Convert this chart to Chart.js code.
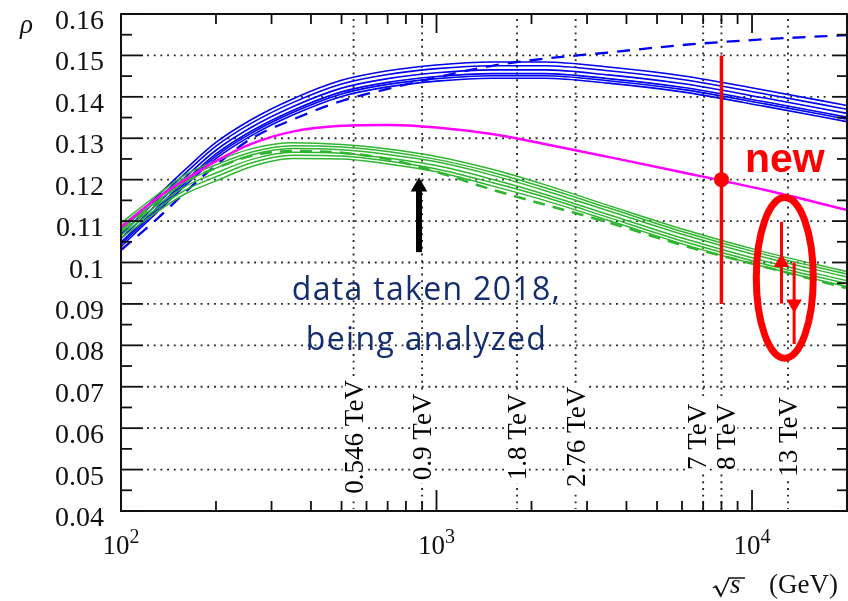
<!DOCTYPE html>
<html lang="en">
<head>
<meta charset="UTF-8">
<title>rho vs sqrt(s)</title>
<script src="https://cdn.jsdelivr.net/npm/chart.js"></script>
<style>
  html, body { margin: 0; padding: 0; background: #fff; }
  #wrap { width: 848px; height: 601px; }
</style>
</head>
<body>
<div id="wrap"><canvas id="rhoChart" width="848" height="601"></canvas></div>
<script>
const energies = [100, 130, 160, 200, 260, 350, 500, 700, 1000, 1500, 2200, 3500, 6000, 11000, 20000];

// blue band (6 solid models) + dashed blue
const blue1 = [0.1077, 0.1160, 0.1225, 0.1290, 0.1346, 0.1395, 0.1440, 0.1463, 0.1477, 0.1484, 0.1484, 0.1472, 0.1451, 0.1416, 0.1379];
const blue2 = [0.1068, 0.1151, 0.1216, 0.1281, 0.1337, 0.1386, 0.1431, 0.1454, 0.1468, 0.1475, 0.1475, 0.1463, 0.1442, 0.1407, 0.1370];
const blue3 = [0.1058, 0.1141, 0.1206, 0.1271, 0.1327, 0.1376, 0.1421, 0.1444, 0.1458, 0.1465, 0.1465, 0.1453, 0.1432, 0.1397, 0.1360];
const blue4 = [0.1049, 0.1132, 0.1197, 0.1262, 0.1318, 0.1367, 0.1412, 0.1435, 0.1449, 0.1456, 0.1456, 0.1444, 0.1423, 0.1388, 0.1351];
const blue5 = [0.1044, 0.1127, 0.1192, 0.1257, 0.1313, 0.1362, 0.1407, 0.1430, 0.1444, 0.1451, 0.1451, 0.1439, 0.1418, 0.1383, 0.1346];
const blue6 = [0.1038, 0.1121, 0.1186, 0.1251, 0.1307, 0.1356, 0.1401, 0.1424, 0.1438, 0.1445, 0.1445, 0.1433, 0.1412, 0.1377, 0.1340];
const blueDashed = [0.1030, 0.1105, 0.1170, 0.1235, 0.1300, 0.1345, 0.1390, 0.1419, 0.1447, 0.1475, 0.1492, 0.1507, 0.1525, 0.1539, 0.1549];

// green band (6 solid models) + dashed green
const green1 = [0.1095, 0.1163, 0.1212, 0.1245, 0.1275, 0.1289, 0.1285, 0.1274, 0.1256, 0.1225, 0.1188, 0.1138, 0.1081, 0.1025, 0.0978];
const green2 = [0.1089, 0.1156, 0.1204, 0.1236, 0.1267, 0.1282, 0.1279, 0.1268, 0.1249, 0.1218, 0.1181, 0.1132, 0.1075, 0.1019, 0.0972];
const green3 = [0.1082, 0.1148, 0.1195, 0.1228, 0.1260, 0.1275, 0.1272, 0.1261, 0.1243, 0.1211, 0.1174, 0.1125, 0.1068, 0.1012, 0.0965];
const green4 = [0.1073, 0.1138, 0.1184, 0.1216, 0.1249, 0.1266, 0.1264, 0.1252, 0.1234, 0.1201, 0.1165, 0.1116, 0.1059, 0.1003, 0.0956];
const green5 = [0.1066, 0.1130, 0.1175, 0.1207, 0.1241, 0.1259, 0.1257, 0.1245, 0.1226, 0.1193, 0.1158, 0.1109, 0.1052, 0.0996, 0.0949];
const green6 = [0.1059, 0.1122, 0.1166, 0.1197, 0.1232, 0.1251, 0.1250, 0.1238, 0.1219, 0.1185, 0.1150, 0.1102, 0.1045, 0.0989, 0.0942];
const greenDashed = [0.1080, 0.1145, 0.1195, 0.1228, 0.1258, 0.1269, 0.1265, 0.1250, 0.1219, 0.1176, 0.1140, 0.1097, 0.1042, 0.0989, 0.0938];

// magenta model
const magenta = [0.1085, 0.1155, 0.1200, 0.1245, 0.1287, 0.1316, 0.1330, 0.1332, 0.1326, 0.1310, 0.1286, 0.1255, 0.1218, 0.1175, 0.1127];

// red measurements: 8 TeV point, 13 TeV up / down arrows
const measEnergy = [8000, 12400, 13600];
const measRho = [0.120, 0.100, 0.090];
const measLow = [0.090, 0.0901, 0.0803];
const measHigh = [0.150, 0.1098, 0.1000];

// axis ticks and labels
const rhoTicks = [0.04, 0.05, 0.06, 0.07, 0.08, 0.09, 0.10, 0.11, 0.12, 0.13, 0.14, 0.15, 0.16];
const rhoTickLabels = ['0.04', '0.05', '0.06', '0.07', '0.08', '0.09', '0.1', '0.11', '0.12', '0.13', '0.14', '0.15', '0.16'];
const decades = [100, 1000, 10000];
const decadeExp = ['2', '3', '4'];

// collider energies marked with vertical dotted lines
const markEnergies = [546, 900, 1800, 2760, 7000, 8000, 13000];
const markLabels = ['0.546 TeV', '0.9 TeV', '1.8 TeV', '2.76 TeV', '7 TeV', '8 TeV', '13 TeV'];

// annotation placement (not data)
const markShift = [0, 0, 0, 0, -6, 5, 0];
const markLabelRho = 0.0579;
const arrowE = 880, arrowRho = [0.1025, 0.1183];
const ringE = 12700, ringRho = 0.0963, ringHalfDec = 0.0903, ringHalfRho = 0.0194;

const serif = '"Liberation Serif", "DejaVu Serif", serif';

const curve = (vals, color, width, dash, order) => ({
  data: vals.map((v, i) => ({ x: energies[i], y: v })),
  borderColor: color,
  borderWidth: width,
  borderDash: dash || [],
  pointRadius: 0,
  cubicInterpolationMode: 'monotone',
  fill: false,
  order: order
});

const errBar = (i, width) => ({
  data: [{ x: measEnergy[i], y: measLow[i] }, { x: measEnergy[i], y: measHigh[i] }],
  borderColor: '#ff0000',
  borderWidth: width,
  pointRadius: 0,
  order: 0
});

const marker = (i, style, radius, rotation) => ({
  data: [{ x: measEnergy[i], y: measRho[i] }],
  showLine: false,
  pointStyle: style,
  pointRadius: radius,
  pointRotation: rotation,
  pointBackgroundColor: '#ff0000',
  pointBorderWidth: 0,
  order: 0
});

const BLUE = '#0000f0', GREEN = '#2fb52f';

const datasets = [
  errBar(0, 3.5), errBar(1, 3), errBar(2, 3),
  marker(0, 'circle', 7.5, 0), marker(1, 'triangle', 9, 0), marker(2, 'triangle', 9, 180),
  {
    data: [{ x: arrowE, y: arrowRho[0] }, { x: arrowE, y: arrowRho[1] }],
    borderColor: '#000', borderWidth: 6,
    pointRadius: [0, 9.5], pointStyle: 'triangle',
    pointBackgroundColor: '#000', pointBorderWidth: 0, order: 0
  },
  curve(magenta, '#ff00ff', 2.5, null, 1),
  curve(green1, GREEN, 1.5, null, 2),
  curve(green2, GREEN, 1.5, null, 2),
  curve(green3, GREEN, 1.5, null, 2),
  curve(green4, GREEN, 1.5, null, 2),
  curve(green5, GREEN, 1.5, null, 2),
  curve(green6, GREEN, 1.5, null, 2),
  curve(greenDashed, GREEN, 2.6, [12, 8], 2),
  curve(blue1, BLUE, 1.6, null, 3),
  curve(blue2, BLUE, 1.6, null, 3),
  curve(blue3, BLUE, 1.6, null, 3),
  curve(blue4, BLUE, 1.6, null, 3),
  curve(blue5, BLUE, 1.6, null, 3),
  curve(blue6, BLUE, 1.6, null, 3),
  curve(blueDashed, BLUE, 2.3, [13, 9], 3)
];

function seg(ctx, x1, y1, x2, y2) {
  ctx.beginPath(); ctx.moveTo(x1, y1); ctx.lineTo(x2, y2); ctx.stroke();
}

// draw text centred on x, stretched with letter spacing to a target width
function spacedText(ctx, text, cx, baseline, target) {
  ctx.letterSpacing = '0px';
  const w0 = ctx.measureText(text).width;
  const sp = Math.max(0, (target - w0) / (text.length - 1));
  ctx.letterSpacing = sp + 'px';
  ctx.textAlign = 'left';
  ctx.fillText(text, cx - target / 2, baseline);
  ctx.letterSpacing = '0px';
}

const decor = {
  id: 'decor',
  beforeDatasetsDraw(chart) {
    const { ctx, chartArea: a, scales: { x, y } } = chart;
    ctx.save();
    // dotted grid
    ctx.strokeStyle = '#2a2a2a';
    ctx.lineWidth = 1.9;
    ctx.setLineDash([1.9, 4.8]);
    rhoTicks.forEach((v, i) => {
      if (i === 0 || i === rhoTicks.length - 1) return;
      const py = y.getPixelForValue(v);
      seg(ctx, a.left + 26, py, a.right - 19, py);
    });
    markEnergies.forEach(e => {
      const px = x.getPixelForValue(e);
      seg(ctx, px, a.top + 5, px, a.bottom - 2);
    });
    ctx.setLineDash([]);
    // energy labels on white boxes
    ctx.font = '27px ' + serif;
    ctx.textAlign = 'center';
    ctx.textBaseline = 'alphabetic';
    markLabels.forEach((t, i) => {
      const px = x.getPixelForValue(markEnergies[i]) + markShift[i];
      const py = y.getPixelForValue(markLabelRho);
      const w = ctx.measureText(t).width;
      ctx.save();
      ctx.translate(px, py);
      ctx.rotate(-Math.PI / 2);
      ctx.fillStyle = '#fff';
      ctx.fillRect(-w / 2 - 3, -11, w + 6, 22);
      ctx.fillStyle = '#000';
      ctx.fillText(t, 0, 9);
      ctx.restore();
    });
    ctx.restore();
  },
  afterDatasetsDraw(chart) {
    const { ctx, chartArea: a, scales: { x, y } } = chart;
    ctx.save();

    // red ring round the 13 TeV points
    const cx = x.getPixelForValue(ringE);
    const rx = (x.getPixelForValue(ringE * Math.pow(10, ringHalfDec)) - x.getPixelForValue(ringE / Math.pow(10, ringHalfDec))) / 2;
    const cy = y.getPixelForValue(ringRho);
    const ry = (y.getPixelForValue(ringRho - ringHalfRho) - y.getPixelForValue(ringRho + ringHalfRho)) / 2;
    ctx.strokeStyle = '#ff0000';
    ctx.lineWidth = 7;
    ctx.beginPath();
    ctx.ellipse(cx, cy, rx, ry, 0, 0, Math.PI * 2);
    ctx.stroke();

    // "new"
    ctx.fillStyle = '#ff0000';
    ctx.font = 'bold 41px "Liberation Sans", Arial, sans-serif';
    ctx.textAlign = 'center';
    ctx.textBaseline = 'alphabetic';
    ctx.fillText('new', x.getPixelForValue(ringE), y.getPixelForValue(0.1219));

    // note under the arrow
    ctx.fillStyle = '#142d6e';
    ctx.font = '32px "Open Sans", "Noto Sans", sans-serif';
    spacedText(ctx, 'data taken 2018,', x.getPixelForValue(925), y.getPixelForValue(0.0909), 268);
    spacedText(ctx, 'being analyzed', x.getPixelForValue(925), y.getPixelForValue(0.0789), 240);

    // frame and ticks
    ctx.strokeStyle = '#111';
    ctx.lineWidth = 2;
    ctx.strokeRect(a.left, a.top, a.right - a.left, a.bottom - a.top);
    ctx.lineWidth = 1.8;
    for (let k = 0; k <= 24; k++) {
      const py = y.getPixelForValue(0.04 + k * 0.005);
      const major = k % 2 === 0;
      seg(ctx, a.left, py, a.left + (major ? 22 : 11), py);
      seg(ctx, a.right, py, a.right - (major ? 15 : 10), py);
    }
    decades.forEach(d => {
      for (let m = 1; m <= 9; m++) {
        const e = d * m;
        if (e > 20000) break;
        const px = x.getPixelForValue(e);
        seg(ctx, px, a.bottom, px, a.bottom - (m === 1 ? 21 : 10));
        seg(ctx, px, a.top, px, a.top + (m === 1 ? 19 : 10));
      }
    });

    // tick labels
    ctx.fillStyle = '#111';
    ctx.font = '28px ' + serif;
    ctx.textAlign = 'right';
    rhoTicks.forEach((v, i) => {
      ctx.fillText(rhoTickLabels[i], a.left - 17, y.getPixelForValue(v) + 15);
    });
    ctx.textAlign = 'left';
    decades.forEach((d, i) => {
      const px = x.getPixelForValue(d);
      ctx.font = '27px ' + serif;
      const w1 = ctx.measureText('10').width;
      ctx.font = '20px ' + serif;
      const w2 = ctx.measureText(decadeExp[i]).width;
      const x0 = px - (w1 + w2) / 2;
      ctx.font = '27px ' + serif;
      ctx.fillText('10', x0, 554);
      ctx.font = '20px ' + serif;
      ctx.fillText(decadeExp[i], x0 + w1, 543);
    });

    // axis titles: sqrt(s) with a drawn radical, (GeV), rho
    const r0 = a.right - 134;
    ctx.lineWidth = 1.5;
    ctx.beginPath();
    ctx.moveTo(r0, 588);
    ctx.lineTo(r0 + 3, 586);
    ctx.lineTo(r0 + 8, 596);
    ctx.lineTo(r0 + 16, 578);
    ctx.lineTo(r0 + 32, 578);
    ctx.stroke();
    ctx.lineWidth = 2.2;
    seg(ctx, r0 + 3, 586.5, r0 + 8, 596);
    ctx.font = 'italic 27px ' + serif;
    ctx.fillText('s', r0 + 17, 593);
    ctx.font = '27px ' + serif;
    ctx.fillText('(GeV)', a.right - 78, 593);
    ctx.font = 'italic 27px ' + serif;
    ctx.fillText('\u03C1', 20, 33);

    ctx.restore();
  }
};

new Chart(document.getElementById('rhoChart'), {
  type: 'line',
  data: { datasets: datasets },
  options: {
    responsive: false,
    animation: false,
    devicePixelRatio: 1,
    layout: { autoPadding: false, padding: { left: 121, right: 1, top: 14, bottom: 90 } },
    scales: {
      x: { type: 'logarithmic', min: 100, max: 20000, display: false },
      y: { type: 'linear', min: 0.04, max: 0.16, display: false }
    },
    plugins: { legend: { display: false }, tooltip: { enabled: false } },
    events: []
  },
  plugins: [decor]
});
</script>
</body>
</html>
